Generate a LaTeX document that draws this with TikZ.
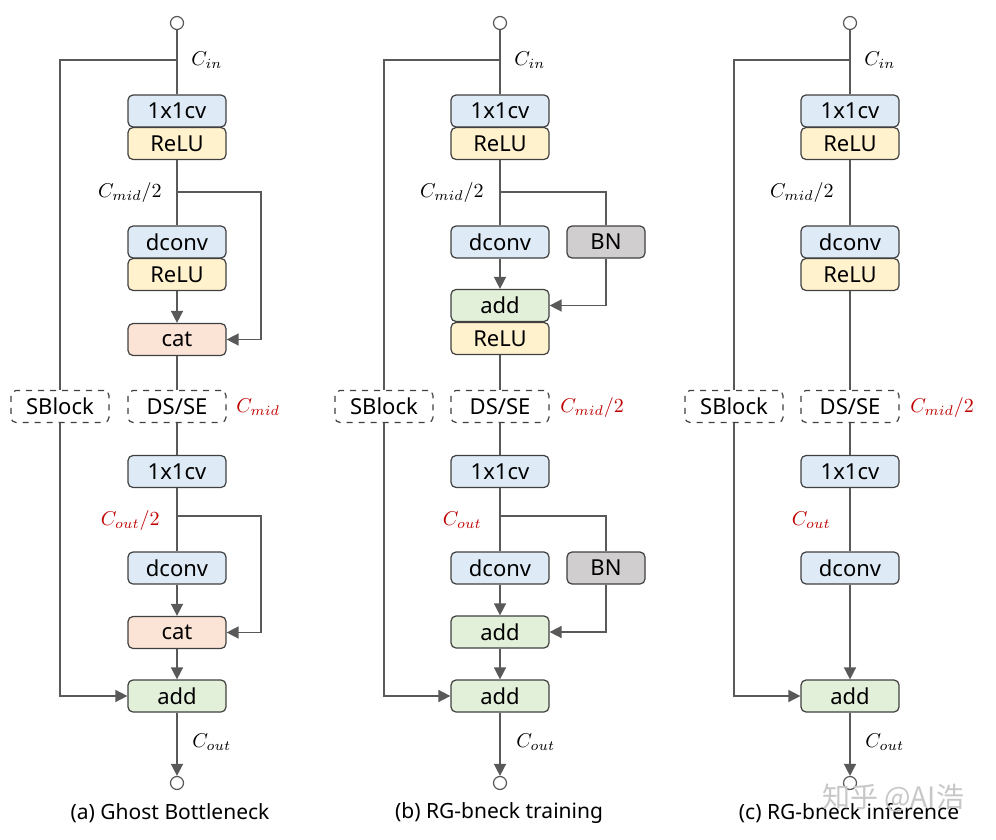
\documentclass[tikz,border=0pt]{standalone}
\usepackage{fontspec}
\setmainfont{Noto Sans}
\newfontfamily\cjk{Noto Sans CJK SC}
\usetikzlibrary{arrows.meta}
\definecolor{cblue}{HTML}{DEEBF7}
\definecolor{cyellow}{HTML}{FFF2CC}
\definecolor{corange}{HTML}{FBE3D6}
\definecolor{cgreen}{HTML}{E2F0D9}
\definecolor{cgray}{HTML}{D0CECE}
\definecolor{cborder}{HTML}{404040}
\definecolor{cline}{HTML}{595959}
\definecolor{cred}{HTML}{C00000}
\tikzset{
  x=0.5pt, y=-0.5pt,
  blk/.style={draw=cborder, line width=0.6pt, rounded corners=2.5pt, minimum width=49pt, minimum height=16pt, inner sep=0pt, font=\fontsize{11}{13}\selectfont},
  bluebox/.style={blk, fill=cblue},
  yelbox/.style={blk, fill=cyellow},
  orabox/.style={blk, fill=corange},
  grnbox/.style={blk, fill=cgreen},
  bnbox/.style={blk, fill=cgray, minimum width=39pt},
  dashbox/.style={blk, dashed, fill=white},
  port/.style={circle, draw=cline, line width=0.6pt, fill=white, minimum size=6.5pt, inner sep=0pt},
  ln/.style={draw=cline, line width=0.75pt},
  arr/.style={ln, -{Triangle[length=6pt,width=6pt]}},
  lab/.style={font=\fontsize{10}{12}\selectfont, inner sep=0pt},
  redlab/.style={lab, text=cred},
  captxt/.style={font=\fontsize{10.5}{12}\selectfont, inner sep=0pt}
}
\begin{document}
\begin{tikzpicture}
\useasboundingbox (0,0) rectangle (996,840);
% ================= (a) =================
\node[port] (ain) at (177,23) {};
\node[bluebox] (a1) at (177,111) {1x1cv};
\node[yelbox] (a2) at (177,143.5) {ReLU};
\node[bluebox] (a3) at (177,242) {dconv};
\node[yelbox] (a4) at (177,274.5) {ReLU};
\node[orabox] (a5) at (177,339.5) {cat};
\node[dashbox] (a6) at (177,406.5) {DS/SE};
\node[dashbox] (asb) at (60,406.5) {SBlock};
\node[bluebox] (a7) at (177,471.5) {1x1cv};
\node[bluebox] (a8) at (177,568) {dconv};
\node[orabox] (a9) at (177,632.5) {cat};
\node[grnbox] (a10) at (177,696) {add};
\node[port] (aout) at (177,783) {};
\coordinate (as) at (177,60);
\coordinate (ab1) at (177,192);
\coordinate (ab1r) at (261,192);
\coordinate (ab2) at (177,516);
\coordinate (ab2r) at (261,516);
\draw[ln] (ain) -- (a1);
\draw[ln] (as) -| (asb.north);
\draw[arr] (asb.south) |- (a10.west);
\draw[ln] (a2) -- (a3);
\draw[arr] (ab1) -- (ab1r) |- (a5.east);
\draw[arr] (a4) -- (a5);
\draw[ln] (a5) -- (a6);
\draw[ln] (a6) -- (a7);
\draw[ln] (a7) -- (a8);
\draw[arr] (ab2) -- (ab2r) |- (a9.east);
\draw[arr] (a8) -- (a9);
\draw[arr] (a9) -- (a10);
\draw[arr] (a10) -- (aout);
\node[lab, anchor=west] (acin) at (191,60) {$C_{in}$};
\node[lab, anchor=east] (acm) at (162,193) {$C_{mid}/2$};
\node[redlab, anchor=west] (acm2) at (236,407) {$C_{mid}$};
\node[redlab, anchor=east] (aco2) at (160,520) {$C_{out}/2$};
\node[lab, anchor=west] (acout) at (192,742) {$C_{out}$};
\node[captxt] (acap) at (170,813) {(a) Ghost Bottleneck};
% ================= (b) =================
\node[port] (bin) at (500,23) {};
\node[bluebox] (b1) at (500,111) {1x1cv};
\node[yelbox] (b2) at (500,143.5) {ReLU};
\node[bluebox] (b3) at (500,242) {dconv};
\node[bnbox] (bbn1) at (606,242) {BN};
\node[grnbox] (b4) at (500,305.5) {add};
\node[yelbox] (b5) at (500,338.5) {ReLU};
\node[dashbox] (b6) at (500,406.5) {DS/SE};
\node[dashbox] (bsb) at (384,406.5) {SBlock};
\node[bluebox] (b7) at (500,471.5) {1x1cv};
\node[bluebox] (b8) at (500,568) {dconv};
\node[bnbox] (bbn2) at (606,568) {BN};
\node[grnbox] (b9) at (500,632) {add};
\node[grnbox] (b10) at (500,696) {add};
\node[port] (bout) at (500,783) {};
\coordinate (bs) at (500,60);
\coordinate (bb1) at (500,192);
\coordinate (bb2) at (500,516);
\draw[ln] (bin) -- (b1);
\draw[ln] (bs) -| (bsb.north);
\draw[arr] (bsb.south) |- (b10.west);
\draw[ln] (b2) -- (b3);
\draw[ln] (bb1) -| (bbn1.north);
\draw[arr] (bbn1.south) |- (b4.east);
\draw[arr] (b3) -- (b4);
\draw[ln] (b5) -- (b6);
\draw[ln] (b6) -- (b7);
\draw[ln] (b7) -- (b8);
\draw[ln] (bb2) -| (bbn2.north);
\draw[arr] (bbn2.south) |- (b9.east);
\draw[arr] (b8) -- (b9);
\draw[arr] (b9) -- (b10);
\draw[arr] (b10) -- (bout);
\node[lab, anchor=west] (bcin) at (514,60) {$C_{in}$};
\node[lab, anchor=east] (bcm) at (484,193) {$C_{mid}/2$};
\node[redlab, anchor=west] (bcm2) at (560,407) {$C_{mid}/2$};
\node[redlab, anchor=east] (bco) at (482,520) {$C_{out}$};
\node[lab, anchor=west] (bcout) at (516,742) {$C_{out}$};
\node[captxt] (bcap) at (499,813) {(b) RG-bneck training};
% ================= (c) =================
\node[port] (cin) at (850,23) {};
\node[bluebox] (c1) at (850,111) {1x1cv};
\node[yelbox] (c2) at (850,143.5) {ReLU};
\node[bluebox] (c3) at (850,242) {dconv};
\node[yelbox] (c4) at (850,274.5) {ReLU};
\node[dashbox] (c6) at (850,406.5) {DS/SE};
\node[dashbox] (csb) at (734,406.5) {SBlock};
\node[bluebox] (c7) at (850,471.5) {1x1cv};
\node[bluebox] (c8) at (850,568) {dconv};
\node[grnbox] (c10) at (850,696) {add};
\node[port] (cout) at (850,783) {};
\coordinate (cs) at (850,60);
\draw[ln] (cin) -- (c1);
\draw[ln] (cs) -| (csb.north);
\draw[arr] (csb.south) |- (c10.west);
\draw[ln] (c2) -- (c3);
\draw[ln] (c4) -- (c6);
\draw[ln] (c6) -- (c7);
\draw[ln] (c7) -- (c8);
\draw[arr] (c8) -- (c10);
\draw[arr] (c10) -- (cout);
\node[lab, anchor=west] (ccin) at (864,60) {$C_{in}$};
\node[lab, anchor=east] (ccm) at (834,193) {$C_{mid}/2$};
\node[redlab, anchor=west] (ccm2) at (910,407) {$C_{mid}/2$};
\node[redlab, anchor=east] (cco) at (831,520) {$C_{out}$};
\node[lab, anchor=west] (ccout) at (865,742) {$C_{out}$};
\node[captxt] (ccap) at (849,813) {(c) RG-bneck inference};
\node[font=\cjk\fontsize{14}{16}\selectfont, text=black!22, inner sep=0pt] (wm) at (893,798) {知乎 @AI浩};
\end{tikzpicture}
\end{document}
